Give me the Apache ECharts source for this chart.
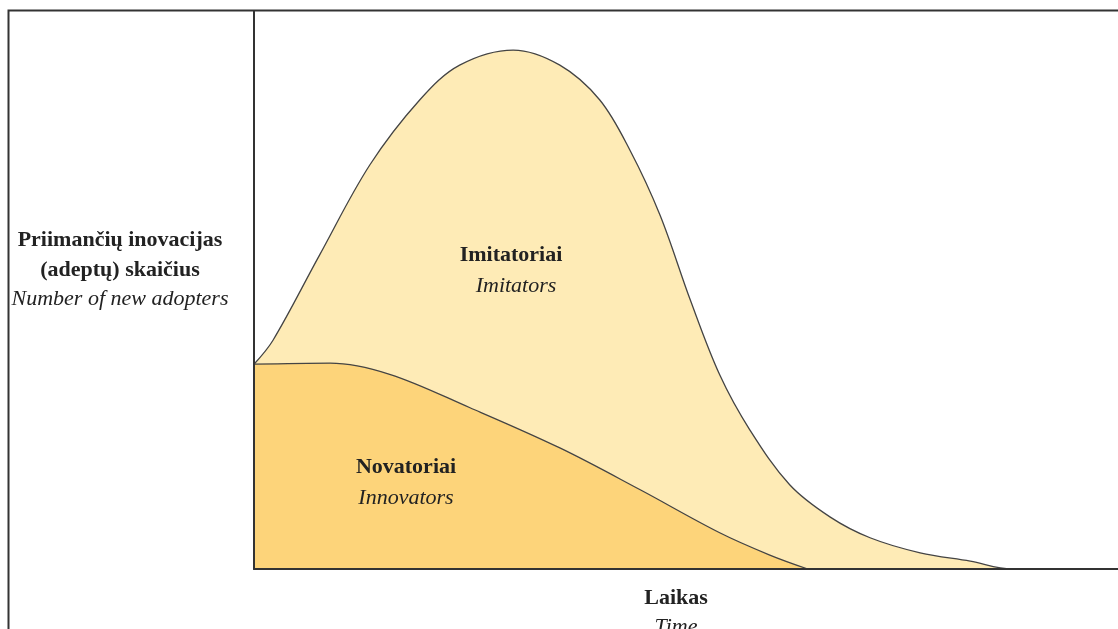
<!DOCTYPE html>
<html>
<head>
<meta charset="utf-8">
<script src="https://cdn.jsdelivr.net/npm/echarts@6/dist/echarts.min.js"></script>
<style>html,body{margin:0;padding:0;background:#fff}#c{width:1118px;height:629px}</style>
</head>
<body>
<div id="c"></div>
<script>
// Total new adopters (innovators + imitators), time units 0..100
const adoptersTime  = [0, 2.2, 7.6, 13.4, 19.2, 23.8, 30.0, 35.4, 40.0, 43.5, 47.0, 50.5, 53.9, 57.4, 62.0, 66.7, 71.3, 77.1, 82.9, 87.7, 100];
const adoptersValue = [36.7, 41.0, 56.3, 72.4, 84.1, 90.3, 93.0, 90.3, 84.1, 75.1, 63.4, 48.2, 34.8, 24.9, 15.1, 9.3, 5.6, 2.9, 1.4, 0, 0];
// Innovators
const innovatorsTime  = [0, 8.8, 15.7, 25.0, 35.4, 44.7, 53.9, 59.7, 64.1];
const innovatorsValue = [36.7, 36.9, 34.9, 28.9, 21.7, 14.2, 6.5, 2.5, 0];

const labels = {
  yBold1: 'Priimančių inovacijas',
  yBold2: '(adeptų) skaičius',
  yItalic: 'Number of new adopters',
  imitBold: 'Imitatoriai', imitItalic: 'Imitators',
  innoBold: 'Novatoriai', innoItalic: 'Innovators',
  xBold: 'Laikas', xItalic: 'Time'
};

const FONT = '"Liberation Serif", "DejaVu Serif", serif';
const pair = (xs, ys) => xs.map((x, i) => [x, ys[i]]);

const chart = echarts.init(document.getElementById('c'), null, {renderer: 'canvas'});
function txt(x, y, t, bold, size) {
  return {type: 'text', x: x, y: y, z: 10,
    style: {text: t, x: 0, y: 0, align: 'center', verticalAlign: 'middle',
      font: (bold ? 'bold ' : 'italic ') + size + 'px ' + FONT, fill: '#222'}};
}
chart.setOption({
  animation: false,
  backgroundColor: '#fff',
  grid: {left: 254, right: 0, top: 11, bottom: 60},
  xAxis: {type: 'value', min: 0, max: 100, z: 5,
    axisLine: {show: true, lineStyle: {color: '#333', width: 2}},
    axisTick: {show: false}, axisLabel: {show: false}, splitLine: {show: false}},
  yAxis: {type: 'value', min: 0, max: 100, z: 5,
    axisLine: {show: true, lineStyle: {color: '#333', width: 2}},
    axisTick: {show: false}, axisLabel: {show: false}, splitLine: {show: false}},
  series: [
    {type: 'line', name: 'Imitators', data: pair(adoptersTime, adoptersValue),
      smooth: 0.35, symbol: 'none', z: 2,
      lineStyle: {color: '#444', width: 1.3},
      areaStyle: {color: '#FEEBB6', opacity: 1}},
    {type: 'line', name: 'Innovators', data: pair(innovatorsTime, innovatorsValue),
      smooth: 0.35, symbol: 'none', z: 3,
      lineStyle: {color: '#444', width: 1.3},
      areaStyle: {color: '#FDD47A', opacity: 1}}
  ],
  graphic: [
    {type: 'rect', shape: {x: 8.5, y: 10.5, width: 1300, height: 800}, z: 0,
      style: {fill: null, stroke: '#333', lineWidth: 2}, silent: true},
    txt(120, 240, labels.yBold1, true, 22),
    txt(120, 270, labels.yBold2, true, 22),
    txt(120, 299, labels.yItalic, false, 22),
    txt(511, 255, labels.imitBold, true, 22),
    txt(516, 286, labels.imitItalic, false, 22),
    txt(406, 467, labels.innoBold, true, 22),
    txt(406, 498, labels.innoItalic, false, 22),
    txt(676, 598, labels.xBold, true, 22),
    txt(676, 627, labels.xItalic, false, 22)
  ]
});
</script>
</body>
</html>
